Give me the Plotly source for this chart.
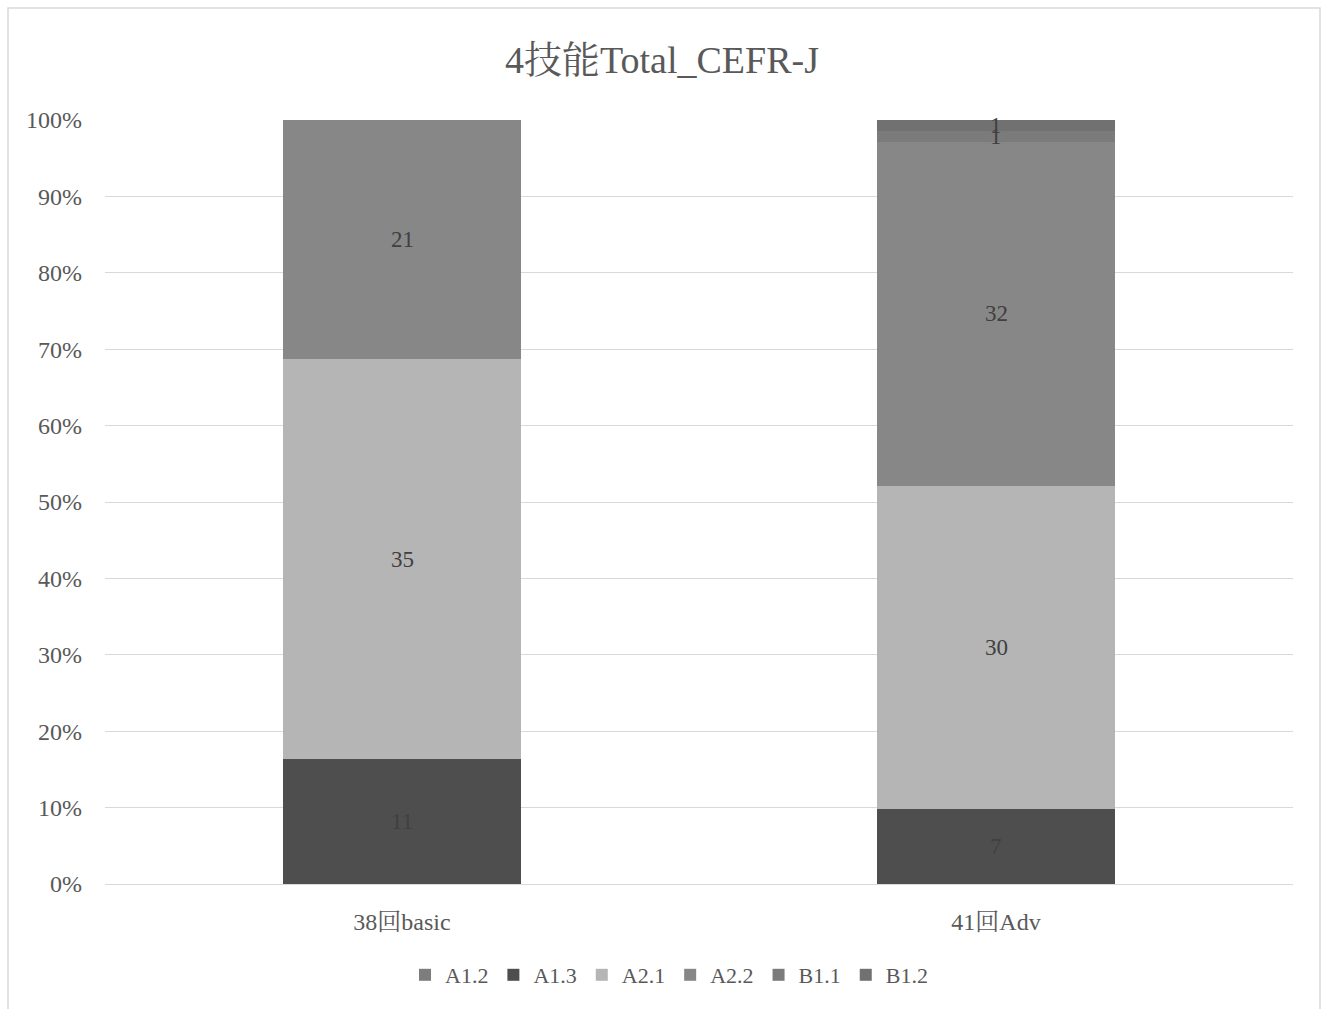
import plotly.graph_objects as go

# CEFR-J level counts per test session
categories = ["38回basic", "41回Adv"]
levels = ["A1.2", "A1.3", "A2.1", "A2.2", "B1.1", "B1.2"]
counts = {
    "A1.2": [0, 0],
    "A1.3": [11, 7],
    "A2.1": [35, 30],
    "A2.2": [21, 32],
    "B1.1": [0, 1],
    "B1.2": [0, 1],
}
colors = {
    "A1.2": "#7d7d7d",
    "A1.3": "#4e4e4e",
    "A2.1": "#b5b5b5",
    "A2.2": "#878787",
    "B1.1": "#7b7b7b",
    "B1.2": "#717171",
}

FONT = "Liberation Serif, Noto Serif CJK JP, Noto Sans CJK JP, serif"

totals = [sum(counts[lv][i] for lv in levels) for i in range(len(categories))]
shares = {lv: [100.0 * counts[lv][i] / totals[i] for i in range(len(categories))] for lv in levels}

fig = go.Figure()
for lv in levels:
    fig.add_trace(go.Bar(
        name=lv, x=categories, y=shares[lv],
        marker=dict(color=colors[lv], line=dict(width=0)),
    ))

# value labels centred in each segment
annotations = []
for i, cat in enumerate(categories):
    base = 0.0
    for lv in levels:
        h = shares[lv][i]
        if counts[lv][i] > 0:
            annotations.append(dict(
                x=cat, y=base + h / 2, xref="x", yref="y", text=str(counts[lv][i]),
                showarrow=False, font=dict(family=FONT, size=23, color="#404040"),
            ))
        base += h

L, R, T, B = 105, 31, 120, 125
W, H = 1324, 1009
pw, ph = W - L - R, H - T - B

def px_x(p):
    return (p - L) / pw

def px_y(p):
    return (H - B - p) / ph

fig.update_layout(
    width=W, height=H,
    margin=dict(l=L, r=R, t=T, b=B),
    barmode="stack", bargap=0.6,
    paper_bgcolor="white", plot_bgcolor="white",
    font=dict(family=FONT, size=22, color="#595959"),
    title=dict(text="4技能Total_CEFR-J", x=0.5, xanchor="center",
               y=1 - 60 / H, yanchor="middle",
               font=dict(family=FONT, size=38, color="#595959")),
    xaxis=dict(showgrid=False, showline=True, linecolor="#d9d9d9", linewidth=1,
               ticks="", ticklabelstandoff=16,
               tickfont=dict(size=24, color="#595959")),
    yaxis=dict(range=[0, 100], dtick=10, ticksuffix="%", showgrid=True,
               gridcolor="#d9d9d9", gridwidth=1, zeroline=False, showline=False,
               ticks="", ticklabelstandoff=22, tickfont=dict(size=24, color="#595959")),
    legend=dict(orientation="h", traceorder="normal", x=px_x(669), xanchor="center",
                y=px_y(975), yanchor="middle", font=dict(size=22, color="#595959"),
                itemwidth=30, tracegroupgap=0),
    annotations=annotations,
    shapes=[dict(type="rect", xref="paper", yref="paper",
                 x0=px_x(8), x1=px_x(1320), y0=px_y(1012), y1=px_y(8),
                 line=dict(color="#d9d9d9", width=1.5), fillcolor="rgba(0,0,0,0)",
                 layer="below")],
)

fig.write_html("out.html")
